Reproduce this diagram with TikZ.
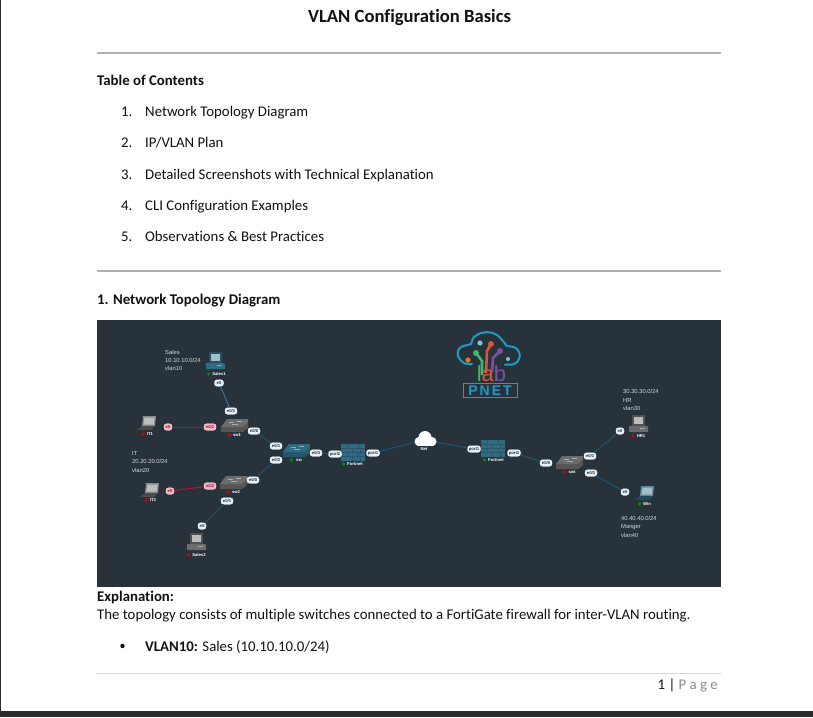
\documentclass[tikz,border=0pt]{standalone}
\usepackage{fontspec}
\setmainfont[RawFeature={-liga}]{Carlito}
\newfontfamily\labfont{Liberation Sans}
\newfontfamily\pnetfont[LetterSpace=14]{Liberation Sans}
\usetikzlibrary{positioning}
\definecolor{pageink}{HTML}{111111}
\definecolor{pagerule}{HTML}{B0B0B0}
\definecolor{pagebar}{HTML}{2C2C2C}
\definecolor{labbg}{HTML}{28323B}
\definecolor{labtext}{HTML}{D5D9DC}
\definecolor{linkblue}{HTML}{1E5472}
\definecolor{linkbright}{HTML}{3670A8}
\definecolor{linkred}{HTML}{B5142F}
\definecolor{portfill}{HTML}{E6F1F8}
\definecolor{portpink}{HTML}{F6B4C8}
\definecolor{devgrey}{HTML}{6B6C6D}
\definecolor{devteal}{HTML}{2F6C84}
\definecolor{logoblue}{HTML}{1E9CC8}
\definecolor{logogreen}{HTML}{45B36B}
\definecolor{logored}{HTML}{D9553B}
\definecolor{logopurple}{HTML}{7C4FA8}
\tikzset{
  page text/.style={font=\fontsize{14.8}{16}\selectfont, text=pageink, anchor=base west, inner sep=0pt},
  page head/.style={page text, font=\fontsize{14.8}{16}\selectfont\bfseries},
  page rule/.style={draw=pagerule, line width=2pt},
  lab note/.style={font=\labfont\fontsize{5.8}{6}\selectfont, text=labtext, anchor=base west, inner sep=0pt},
  dev label/.style={font=\labfont\bfseries\fontsize{4.2}{4}\selectfont, text=white, inner sep=0pt},
  port/.style={rounded corners=2.5pt, fill=portfill, draw=white, line width=0.3pt,
    font=\labfont\bfseries\fontsize{4.2}{4}\selectfont, text=labbg,
    inner sep=0pt, minimum height=6.5pt, minimum width=#1},
  port/.default=12pt,
  port red/.style={port=#1, fill=portpink, text=linkred},
  port red/.default=12pt,
  link/.style={draw=linkblue, line width=1pt},
  link sales/.style={draw=linkbright, line width=1pt},
  link red/.style={draw=linkred, line width=1pt},
  dot on/.style={circle, fill=green!55!black, inner sep=0pt, minimum size=3.6pt},
  dot off/.style={circle, fill=red!85!black, inner sep=0pt, minimum size=3.6pt},
  pics/pc/.style={code={
    \fill[#1!75!black] (-6,-8) rectangle (7,3);
    \fill[#1!45!white] (-4,-6) rectangle (5,1);
    \fill[#1] (-9,3) -- (9,3) -- (10,4) -- (10,9) -- (-9,9) -- cycle;
    \fill[#1!60!white] (2,5) rectangle (7,6);
  }},
  pics/laptop/.style={code={
    \fill[#1!80!white] (-4,-7) -- (9,-7) -- (8,3) -- (-5,3) -- cycle;
    \fill[#1!45!white] (-2.5,-5.5) -- (7.5,-5.5) -- (6.8,1.5) -- (-3.5,1.5) -- cycle;
    \fill[#1!70!black] (-5,3) -- (8,3) -- (4,7) -- (-10,7) -- cycle;
  }},
  pics/switch/.style={code={
    \fill[#1!80!black] (-13,2) -- (9,2) -- (14,-3) -- (14,3) -- (9,7) -- (-13,7) -- cycle;
    \fill[#1] (-13,2) -- (-7,-6) -- (14,-6) -- (14,-3) -- (9,2) -- cycle;
    \fill[white!45!#1] (-5,-3) rectangle (0,-2);
    \fill[white!45!#1] (3,-4) rectangle (8,-3);
    \fill[white!45!#1] (-2,-1) rectangle (4,0);
  }},
  pics/firewall/.style={code={
    \fill[#1] (-12,-8.5) rectangle (12,8.5);
    \draw[labbg!40!#1, line width=0.35pt]
      (-12,-4.2) -- (12,-4.2) (-12,0) -- (12,0) (-12,4.2) -- (12,4.2)
      (-6,-8.5) -- (-6,-4.2) (5,-8.5) -- (5,-4.2) (-1,-4.2) -- (-1,0) (7,-4.2) -- (7,0)
      (-6,0) -- (-6,4.2) (5,0) -- (5,4.2) (-1,4.2) -- (-1,8.5) (7,4.2) -- (7,8.5);
  }},
}

\begin{document}
\begin{tikzpicture}[x=1pt, y=-1pt]
  \useasboundingbox (0,0) rectangle (813,717);
  \fill[white] (0,0) rectangle (813,717);
  \fill[pagebar] (0,0) rectangle (1.2,711);
  \fill[pagebar] (0,711) rectangle (813,717);

  % heading and contents
  \node[font=\fontsize{18.6}{20}\selectfont\bfseries, text=pageink, inner sep=0pt, anchor=base] (title) at (409.5,23) {VLAN Configuration Basics};
  \draw[page rule] (97,53) -- (721,53);
  \node[page head] (tochead) at (97,85) {Table of Contents};
  \node[page text] (toc1n) at (121,116) {1.};
  \node[page text] (toc1) at (145,116) {Network Topology Diagram};
  \node[page text] (toc2n) at (121,147) {2.};
  \node[page text] (toc2) at (145,147) {IP/VLAN Plan};
  \node[page text] (toc3n) at (121,179) {3.};
  \node[page text] (toc3) at (145,179) {Detailed Screenshots with Technical Explanation};
  \node[page text] (toc4n) at (121,210) {4.};
  \node[page text] (toc4) at (145,210) {CLI Configuration Examples};
  \node[page text] (toc5n) at (121,241) {5.};
  \node[page text] (toc5) at (145,241) {Observations \& Best Practices};
  \draw[page rule] (97,271) -- (721,271);
  \node[page head] (sechead) at (97,304) {1. Network Topology Diagram};

  % lab screenshot
  \fill[labbg] (97,320) rectangle (721,587);

  % logo
  \draw[logoblue, line width=2pt, line cap=round]
    plot[smooth, tension=0.8] coordinates {(472,364) (465,363.5) (459,358) (458,351) (463,346) (471,344)
      (474,337) (484,332.5) (495,334) (503,341) (507,346) (514,347) (519,352) (519,359) (514,364) (505,364.5)};
  \draw[logogreen, line width=2.6pt] (476,353) -- (482,361) -- (482,375);
  \draw[logored, line width=2.6pt] (491,344) -- (487,351) -- (486,373);
  \draw[logopurple, line width=2.6pt] (500,351) -- (493,358) -- (492,372);
  \fill[logogreen] (476,353) circle (3pt);
  \fill[logored] (491,344) circle (3pt);
  \fill[logopurple] (500,351) circle (3pt);
  \fill[logoblue!60!white] (480,343) circle (2.6pt);
  \fill[logored!80!yellow] (468,360) circle (2.6pt);
  \fill[logoblue!60!white] (508,359) circle (2pt);
  \node[font=\labfont\fontsize{22}{22}\selectfont, inner sep=0pt, anchor=base] (logolab) at (491.5,381.5)
    {\textcolor{logogreen}{l}\textcolor{logored}{a}\textcolor{logopurple}{b}};
  \node[draw=logoblue, line width=0.9pt, font=\pnetfont\bfseries\fontsize{14}{14}\selectfont, text=logoblue,
    inner sep=0pt, minimum width=54pt, minimum height=13.5pt] (pnet) at (490,390.5) {PNET};

  % devices
  \pic (sales1) at (215,360) {pc=devteal};
  \pic (itone) at (147,423) {laptop=devgrey};
  \pic (swone) at (234,425) {switch=devgrey};
  \pic (swcore) at (296,450) {switch=devteal};
  \pic (swtwo) at (233,482) {switch=devgrey};
  \pic (ittwo) at (150,490) {laptop=devgrey};
  \pic (sales2) at (196,541) {pc=devgrey};
  \pic (fwleft) at (353,452) {firewall=devteal};
  \pic (fwright) at (493,448) {firewall=devteal};
  \pic (swright) at (569,462) {switch=devgrey};
  \pic (hrone) at (638,423) {pc=devgrey};
  \pic (win) at (645,493) {laptop=devteal};

  % device names
  \node[dev label] (sales1lbl) at (219,374) {Sales1};
  \node[dot on, left=1.5pt of sales1lbl] (sales1dot) {};
  \node[dev label] (it1lbl) at (150,434) {IT1};
  \node[dot off, left=1.5pt of it1lbl] (it1dot) {};
  \node[dev label] (sw1lbl) at (237,435) {sw1};
  \node[dot off, left=1.5pt of sw1lbl] (sw1dot) {};
  \node[dev label] (swlbl) at (299,460) {sw};
  \node[dot on, left=2.5pt of swlbl] (swdot) {};
  \node[dev label] (sw2lbl) at (236,492) {sw2};
  \node[dot off, left=1.5pt of sw2lbl] (sw2dot) {};
  \node[dev label] (it2lbl) at (153,500) {IT2};
  \node[dot off, left=1.5pt of it2lbl] (it2dot) {};
  \node[dev label] (sales2lbl) at (199,555) {Sales2};
  \node[dot off, left=1.5pt of sales2lbl] (sales2dot) {};
  \node[dev label] (fw1lbl) at (355,464) {Fortinet};
  \node[dot on, left=1.5pt of fw1lbl] (fw1dot) {};
  \node[dev label] (fw2lbl) at (496,460) {Fortinet};
  \node[dot on, left=1.5pt of fw2lbl] (fw2dot) {};
  \node[dev label] (swrlbl) at (572,472) {swt};
  \node[dot off, left=1.5pt of swrlbl] (swrdot) {};
  \node[dev label] (hr1lbl) at (641,436) {HR1};
  \node[dot off, left=1.5pt of hr1lbl] (hr1dot) {};
  \node[dev label] (winlbl) at (647,504) {Win};
  \node[dot on, left=1.5pt of winlbl] (windot) {};

  % ports
  \node[port=9pt] (p sales1) at (219,383) {e0};
  \node[port] (p sw1a) at (231,411) {e0/1};
  \node[port red=8pt] (p it1) at (168,427) {e0};
  \node[port red] (p sw1b) at (210,427) {e0/2};
  \node[port] (p sw1c) at (254,431) {e0/0};
  \node[port] (p swa) at (276,446) {e0/1};
  \node[port] (p swb) at (276,460) {e0/2};
  \node[port] (p swc) at (316,453) {e0/3};
  \node[port] (p sw2a) at (253,480) {e0/0};
  \node[port red] (p sw2b) at (210,486) {e0/2};
  \node[port red=8pt] (p it2) at (170,491) {e0};
  \node[port] (p sw2c) at (227,501) {e0/1};
  \node[port=8pt] (p sales2) at (202,526) {e0};
  \node[port=13pt] (p fw1a) at (335,454) {port2};
  \node[port=13pt] (p fw1b) at (373,453) {port1};
  \node[port=13pt] (p fw2a) at (474,449) {port1};
  \node[port=13pt] (p fw2b) at (514,453) {port2};
  \node[port] (p swra) at (546,463) {e0/0};
  \node[port] (p swrb) at (590,456) {e0/1};
  \node[port] (p swrc) at (591,473) {e0/2};
  \node[port=8pt] (p hr1) at (620,431) {e0};
  \node[port=8pt] (p win) at (625,492) {e0};
  \coordinate (netc) at (424,440);

  % links
  \draw[link sales] (p sales1) -- (p sw1a);
  \draw[link red] (p it1) -- (p sw1b);
  \draw[link] (p sw1c) -- (p swa);
  \draw[link] (p swb) -- (p sw2a);
  \draw[link red] (p it2) -- (p sw2b);
  \draw[link] (p sw2c) -- (p sales2);
  \draw[link] (p swc) -- (p fw1a);
  \draw[link] (p fw1b) -- (netc);
  \draw[link] (netc) -- (p fw2a);
  \draw[link] (p fw2b) -- (p swra);
  \draw[link] (p swrb) -- (p hr1);
  \draw[link] (p swrc) -- (p win);

  % cloud
  \fill[white] (419,441.5) circle (4.5pt) (425,437.5) circle (6.5pt) (432,441.5) circle (4.5pt);
  \fill[white] (417,441) rectangle (434,446);
  \node[dev label] (netlbl) at (424,449.5) {Net};

  % subnet notes
  \node[lab note] (n sales a) at (165,354) {Sales};
  \node[lab note] (n sales b) at (165,362) {10.10.10.0/24};
  \node[lab note] (n sales c) at (165,370.5) {vlan10};
  \node[lab note] (n it a) at (132,455) {IT};
  \node[lab note] (n it b) at (132,463.5) {20.20.20.0/24};
  \node[lab note] (n it c) at (132,472) {vlan20};
  \node[lab note] (n hr a) at (623,393) {30.30.30.0/24};
  \node[lab note] (n hr b) at (623,402) {HR};
  \node[lab note] (n hr c) at (623,410) {vlan30};
  \node[lab note] (n mg a) at (621,520) {40.40.40.0/24};
  \node[lab note] (n mg b) at (621,528.5) {Manger};
  \node[lab note] (n mg c) at (621,537) {vlan40};

  % text under the screenshot
  \node[page head] (exphead) at (97,601) {Explanation:};
  \node[page text] (expbody) at (97,619) {The topology consists of multiple switches connected to a FortiGate firewall for inter-VLAN routing.};
  \fill[pageink] (122.5,646) circle (2.2pt);
  \node[page text] (vlanline) at (145,651) {\textbf{VLAN10:} Sales (10.10.10.0/24)};
  \draw[draw=black!15, line width=0.7pt] (96,673) -- (721,673);
  \node[font=\fontsize{14.8}{16}\selectfont, text=pageink, inner sep=0pt, anchor=base east] (pagefoot) at (718,689) {1 | \textcolor{black!45}{P a g e}};
\end{tikzpicture}
\end{document}
